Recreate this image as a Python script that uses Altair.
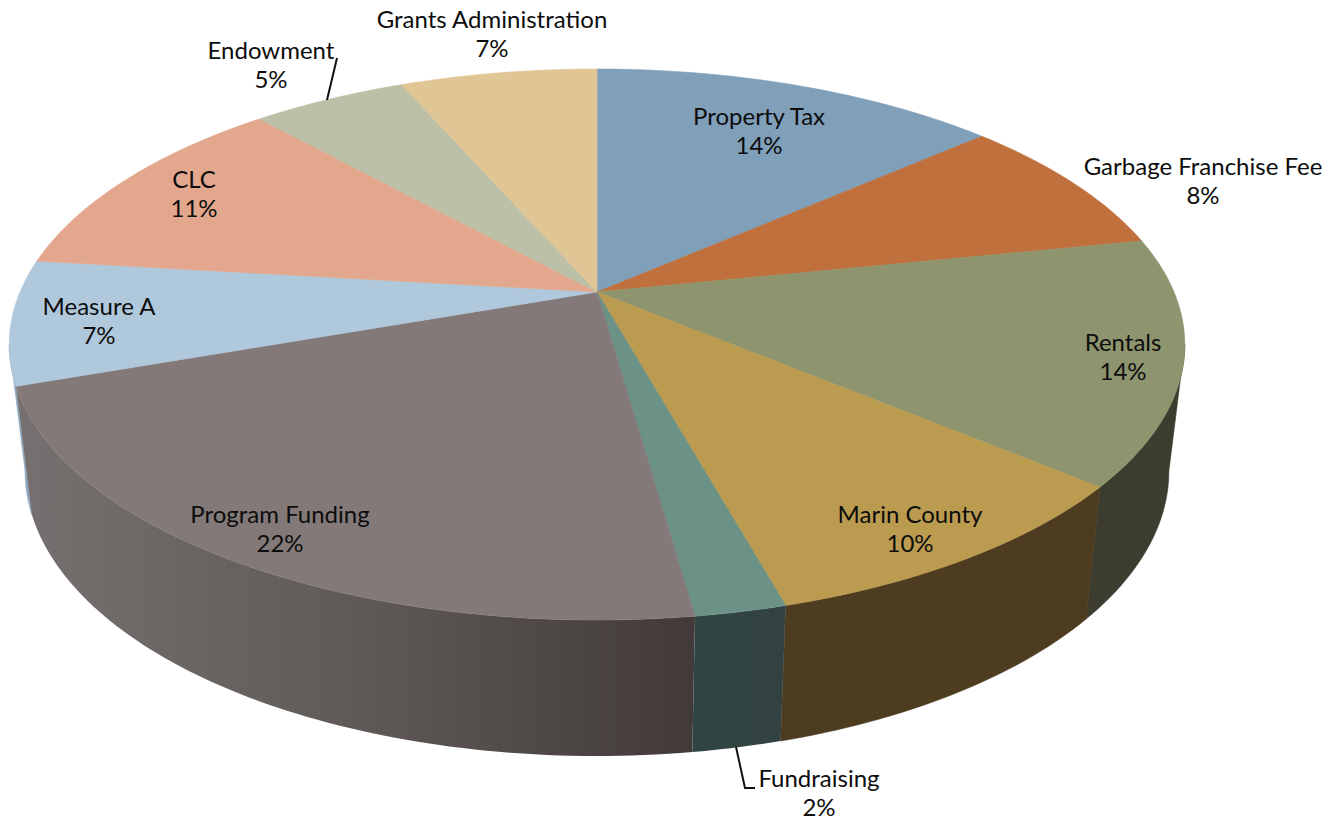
import math
import altair as alt
import pandas as pd

# Funding sources, clockwise from twelve o'clock (percent of total)
sources = ["Property Tax", "Garbage Franchise Fee", "Rentals", "Marin County", "Fundraising",
           "Program Funding", "Measure A", "CLC", "Endowment", "Grants Administration"]
shares = [13.52, 8.28, 14.35, 9.55, 2.1, 21.8, 7.3, 11.46, 5.12, 6.52]

top_colors = ["#809fb9", "#c0703d", "#8e956e", "#bb9b50", "#6c9187",
              "#837978", "#b0c8dc", "#e2a78d", "#bbc0a6", "#e0c595"]
side_stops = [["#5f7a90"], ["#6e4022"], ["#3c3d2f"], ["#4d3c20"], ["#2f4543", "#334240"],
              ["#767170", "#5f5957", "#413a38"], ["#8ba5bc"], ["#8a6450"], ["#70735f"], ["#8a7650"]]

# Text anchors for the annotations, in canvas units
label_x = [759, 1203, 1123, 910, 819, 280, 99, 194, 271, 492]
label_y = [118, 168, 344, 516, 780, 516, 308, 181, 52, 21]
leader_x = [[337, 327], [736, 745, 755]]
leader_y = [[58, 100], [747, 788, 788]]

# Perspective of the tilted disc
cx, cy = 597.0, 292.0
rx, ry, tilt = 577.0, 265.5, 0.1906
shrink = 0.973


def top_point(t):
    u, v = math.sin(t), -math.cos(t)
    d = 1 - tilt * v
    return cx + rx * u / d, cy + ry * v / d


def floor_point(t):
    x, y = top_point(t)
    return cx + (x - cx) * shrink, y + 124 + 12 * (-math.cos(t))


x_scale = alt.Scale(domain=[0, 1343], nice=False, zero=False)
y_scale = alt.Scale(domain=[821, 0], nice=False, zero=False)
X = alt.X("x:Q", scale=x_scale, axis=None)
Y = alt.Y("y:Q", scale=y_scale, axis=None)


def polygon(points, fill, stroke=None):
    frame = pd.DataFrame([{"x": px, "y": py, "i": n} for n, (px, py) in enumerate(points + points[:1])])
    return alt.Chart(frame).mark_line(
        fill=fill, stroke=stroke if stroke else "transparent", strokeWidth=0.6
    ).encode(x=X, y=Y, order=alt.Order("i:Q"))


edges = [0.0]
for s in shares:
    edges.append(edges[-1] + s)
edges = [e / edges[-1] * 2 * math.pi for e in edges]


def arc_angles(a, b):
    steps = max(2, int((b - a) / math.radians(1)))
    return [a + (b - a) * n / steps for n in range(steps + 1)]


# The wall is only visible between the two silhouette tangents of the disc
right_tangent = math.acos(-tilt)
left_tangent = 2 * math.pi - right_tangent

walls = []
faces = []
for k in range(len(sources)):
    a, b = edges[k], edges[k + 1]
    angles = arc_angles(a, b)
    faces.append(polygon([(cx, cy)] + [top_point(t) for t in angles], top_colors[k], top_colors[k]))

    wall_a, wall_b = max(a, right_tangent), min(b, left_tangent)
    if wall_a >= wall_b:
        continue
    stops = side_stops[k]
    if len(stops) == 1:
        paint = stops[0]
    else:
        paint = alt.Gradient(
            gradient="linear", x1=0, x2=1, y1=0, y2=0,
            stops=[alt.GradientStop(color=c, offset=n / (len(stops) - 1)) for n, c in enumerate(stops)],
        )
    sweep = arc_angles(wall_a, wall_b)
    outline = [top_point(t) for t in sweep] + [floor_point(t) for t in reversed(sweep)]
    depth = sum(-math.cos(t) for t in sweep) / len(sweep)
    walls.append((depth, polygon(outline, paint, stops[0] if len(stops) == 1 else None)))

walls.sort(key=lambda w: w[0])

labels = pd.DataFrame({"source": sources, "share": [s / 100 for s in shares],
                       "x": label_x, "y": label_y, "y2": [v + 29 for v in label_y]})
text_style = dict(font="Lato", fontSize=24, color="#0d0d0d", align="center", baseline="middle")
names = alt.Chart(labels).mark_text(**text_style).encode(x=X, y=Y, text="source:N")
percents = alt.Chart(labels).mark_text(**text_style).encode(
    x=X, y=alt.Y("y2:Q", scale=y_scale, axis=None), text=alt.Text("share:Q", format=".0%"))

leaders = []
for lx, ly in zip(leader_x, leader_y):
    frame = pd.DataFrame({"x": lx, "y": ly, "i": range(len(lx))})
    leaders.append(alt.Chart(frame).mark_line(color="#111111", strokeWidth=2).encode(
        x=X, y=Y, order=alt.Order("i:Q")))

chart = alt.layer(*[w[1] for w in walls], *faces, *leaders, names, percents).properties(
    width=1343, height=821, padding=0, autosize=alt.AutoSizeParams(type="none"),
).configure_view(stroke=None)

chart.save("out.html", embed_options={"renderer": "svg", "actions": False})
